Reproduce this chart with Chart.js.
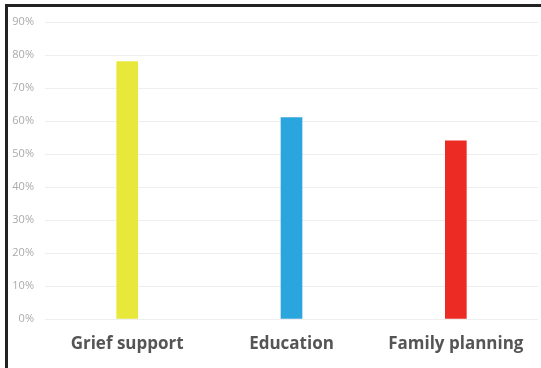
<!DOCTYPE html>
<html><head><meta charset="utf-8">
<script src="https://cdn.jsdelivr.net/npm/chart.js@4/dist/chart.umd.min.js"></script>
<style>
html,body{margin:0;padding:0;background:#fff;width:541px;height:368px;overflow:hidden}
#frame{position:absolute;left:5px;top:4px;width:536px;height:364px;border-left:3px solid #222;border-top:3px solid #222;box-sizing:border-box}
canvas{position:absolute;left:0;top:0}
</style></head><body>
<div id="frame"></div>
<canvas id="c" width="541" height="368"></canvas>
<script>
const categories = ["Grief support", "Education", "Family planning"];
const values = [78, 61, 54];
const barColors = ["#e8e83c", "#2aa5dd", "#ec2b24"];
const tickValues = [0,10,20,30,40,50,60,70,80,90];

new Chart(document.getElementById('c'), {
  type: 'bar',
  data: { labels: categories, datasets: [{ data: values, backgroundColor: barColors, barThickness: 21 }] },
  options: {
    responsive: false, animation: false,
    layout: { padding: { top: 22, right: 3, left: 0, bottom: 0 } },
    plugins: { legend: { display: false }, tooltip: { enabled: false } },
    scales: {
      x: {
        grid: { display: false }, border: { display: false },
        ticks: { color: '#555', font: { family: 'Open Sans', size: 17, weight: 'bold' }, padding: 7 },
        afterFit: s => { s.height = 49; }
      },
      y: {
        min: 0, max: 90,
        afterBuildTicks: s => { s.ticks = tickValues.map(v => ({ value: v })); },
        grid: { color: '#eeeeee', drawTicks: false }, border: { display: false },
        ticks: { color: '#aaa', font: { family: 'Open Sans', size: 11 }, padding: 11, callback: v => v + '%' },
        afterFit: s => { s.width = 45; }
      }
    }
  }
});
</script>
</body></html>
